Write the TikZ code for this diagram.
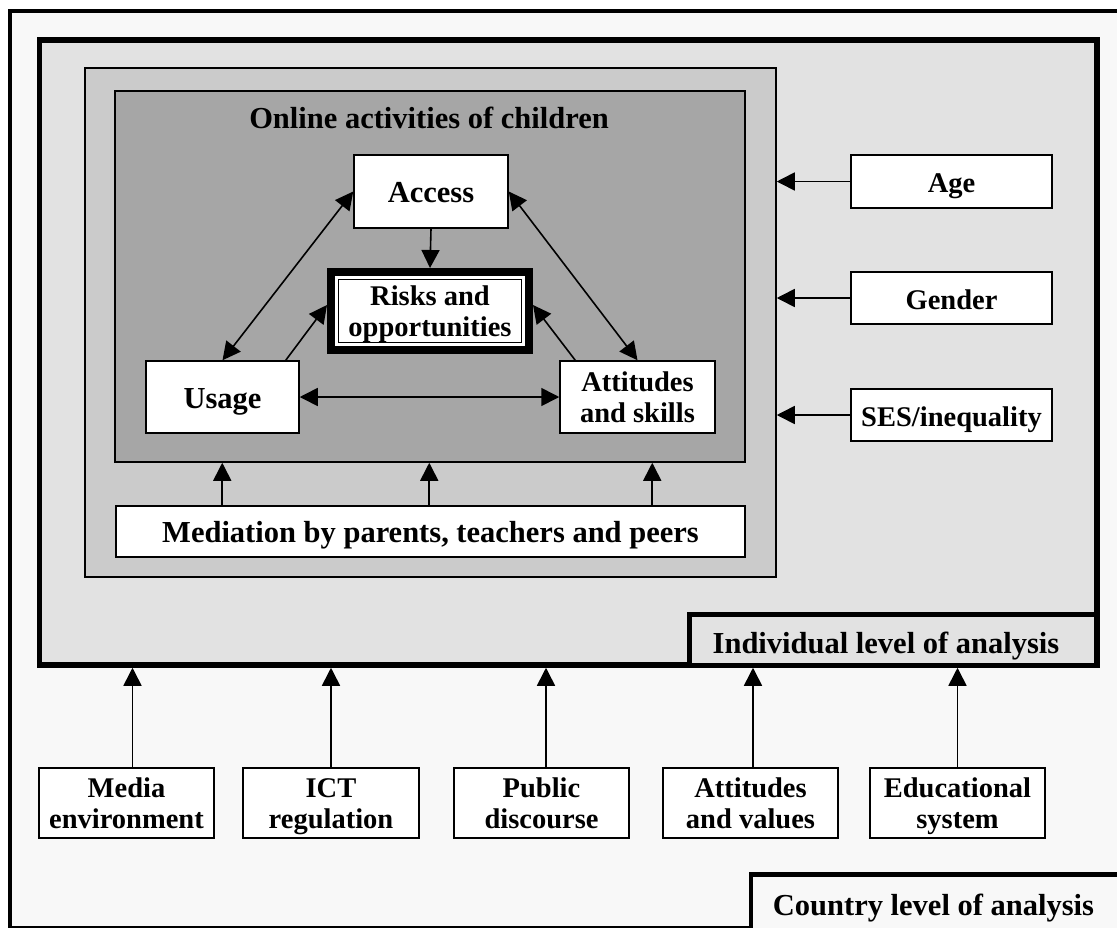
\documentclass[tikz,border=0pt]{standalone}
\usepackage{fontspec}
\setmainfont{Liberation Serif}
\usetikzlibrary{arrows.meta,calc}
\definecolor{countrybg}{HTML}{F8F8F8}
\definecolor{indivbg}{HTML}{E2E2E2}
\definecolor{medbg}{HTML}{CBCBCB}
\definecolor{onlinebg}{HTML}{A6A6A6}
% fixed line heights so that two-line labels sit alike in their boxes
\newcommand\firstrow{\rule{0pt}{26.5pt}}
\newcommand\lastrow{\rule[-7pt]{0pt}{7pt}}
\newcommand\tworows[2]{\firstrow#1\\#2\lastrow}
\begin{document}
\begin{tikzpicture}[x=1pt,y=-1pt,
  >={Triangle[length=18pt,width=18pt]},
  conn/.style={line width=1.6pt},
  frame/.style={draw, inner sep=0pt},
  bigfont/.style={font=\fontsize{30.5}{32}\selectfont\bfseries},
  midfont/.style={font=\fontsize{28.5}{31.5}\selectfont\bfseries},
  box/.style={draw, fill=white, line width=1.5pt, inner sep=0pt, align=center},
  oneline/.style={text height=24pt, text depth=2pt}]
\useasboundingbox (0,0) rectangle (1117,927);

% nested frames of the levels of analysis
\node[frame, line width=4pt, fill=countrybg, minimum width=1120.5, minimum height=916.5]
  (countryframe) at (569.75,469.25) {};
\node[frame, line width=5.5pt, fill=indivbg, minimum width=1057.5, minimum height=625]
  (indiv) at (568.25,352.5) {};
\node[frame, line width=4.5pt, fill=indivbg, minimum width=407, minimum height=50.7]
  (indivtag) at (893.2,639.65) {};
\node[bigfont, anchor=base] (indivtext) at (886,653) {Individual level of analysis};
\node[frame, line width=4.5pt, fill=countrybg, minimum width=379.2, minimum height=65.5]
  (countrytag) at (940.4,907.25) {};
\node[bigfont, anchor=base] (countrytext) at (933.5,915) {Country level of analysis};

\node[frame, line width=1.5pt, fill=medbg, minimum width=691, minimum height=509]
  (medframe) at (430.5,322.5) {};
\node[frame, line width=1.5pt, fill=onlinebg, minimum width=630, minimum height=371]
  (online) at (430,276.5) {};
\node[bigfont, anchor=base] (onlinetitle) at (429,128) {Online activities of children};

% children's online activities
\node[box, bigfont, oneline, minimum width=154, minimum height=73] (access) at (431,191.5) {Access};
\node[draw, line width=8pt, fill=white, inner sep=0pt, minimum width=198, minimum height=78,
  midfont, align=center] (risks) at (430,311) {\tworows{Risks and}{opportunities}};
\draw[line width=1.2pt] ([shift={(11.5,11.5)}]risks.north west) rectangle ([shift={(-11.5,-11.5)}]risks.south east);
\node[box, bigfont, oneline, minimum width=153, minimum height=72] (usage) at (222.5,397) {Usage};
\node[box, midfont, minimum width=155, minimum height=72] (attitudes) at (637.5,397) {\tworows{Attitudes}{and skills}};
\node[box, bigfont, oneline, minimum width=629, minimum height=51] (mediation) at (430.5,531.5)
  {Mediation by parents, teachers and peers};

\draw[conn,<->] (access.west) -- (usage.north);
\draw[conn,<->] (access.east) -- (attitudes.north);
\draw[conn,->] (access.south) -- (risks.north);
\draw[conn,->] ($(usage.north east)+(-14,0)$) -- ($(risks.west)+(0,-6)$);
\draw[conn,->] ($(attitudes.north west)+(16,0)$) -- ($(risks.east)+(0,-6)$);
\draw[conn,<->] (usage.east) -- (attitudes.west);

\coordinate (m1) at ($(mediation.north west)+(107,0)$);
\coordinate (m2) at ($(mediation.north west)+(314,0)$);
\coordinate (m3) at ($(mediation.north west)+(537,0)$);
\foreach \m in {m1,m2,m3}
  \draw[conn,->] (\m) -- (\m |- online.south);

% individual factors
\node[box, midfont, oneline, minimum width=201, minimum height=53] (age) at (951.5,181.5) {Age};
\node[box, midfont, oneline, minimum width=201, minimum height=52] (gender) at (951.5,298) {Gender};
\node[box, midfont, oneline, minimum width=201, minimum height=52] (ses) at (951.5,415) {SES/inequality};
\foreach \f in {age,gender,ses}
  \draw[conn,->] (\f.west) -- (\f.west -| medframe.east);

% country factors
\node[box, midfont, minimum width=175, minimum height=70] (media) at (126.5,803) {\tworows{Media}{environment}};
\node[box, midfont, minimum width=176, minimum height=70] (ict) at (331,803) {\tworows{ICT}{regulation}};
\node[box, midfont, minimum width=175, minimum height=70] (public) at (541.5,803) {\tworows{Public}{discourse}};
\node[box, midfont, minimum width=175, minimum height=70] (attval) at (750.5,803) {\tworows{Attitudes}{and values}};
\node[box, midfont, minimum width=175, minimum height=70] (edu) at (957.5,803) {\tworows{Educational}{system}};

\coordinate (c1) at ($(media.north)+(6,0)$);
\coordinate (c2) at (ict.north);
\coordinate (c3) at ($(public.north)+(4.5,0)$);
\coordinate (c4) at ($(attval.north)+(2.5,0)$);
\coordinate (c5) at (edu.north);
\foreach \c in {c1,c2,c3,c4,c5}
  \draw[conn,->] (\c) -- (\c |- indiv.south);
\end{tikzpicture}
\end{document}
